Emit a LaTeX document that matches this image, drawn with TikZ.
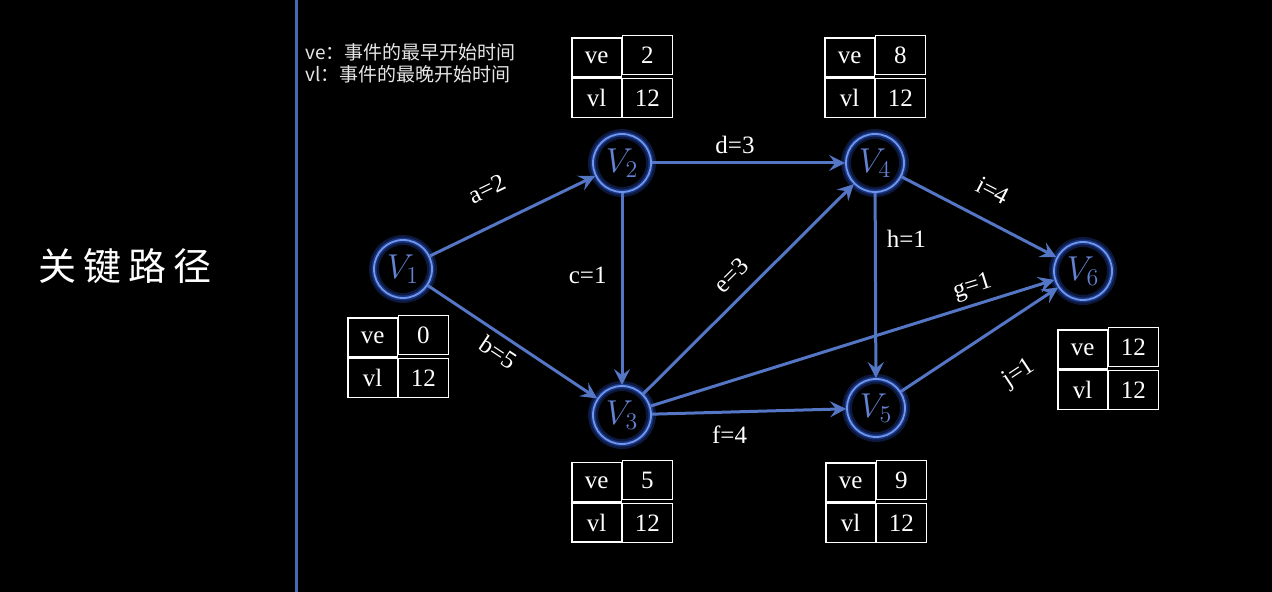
\documentclass[tikz,border=0pt]{standalone}
\usepackage{fontspec}
\setmainfont{Liberation Serif}
\newfontfamily\cjk{Noto Sans CJK SC}
\usetikzlibrary{positioning,arrows.meta,matrix}
\definecolor{edgeblue}{RGB}{84,118,196}
\definecolor{ringblue}{RGB}{110,150,235}
\definecolor{glowblue}{RGB}{40,80,200}
\definecolor{vtxtext}{RGB}{100,130,210}
\definecolor{divider}{RGB}{70,105,180}

\begin{document}
\begin{tikzpicture}[x=0.5pt, y=-0.5pt,
vtx/.style={circle, minimum size=29pt, inner sep=0pt, draw=ringblue, line width=0.9pt, text=vtxtext, font=\fontsize{18}{20}\selectfont, preaction={draw=glowblue, line width=5pt, opacity=.3}, preaction={draw=glowblue, line width=2.5pt, opacity=.5}},
arrow/.style={-{Stealth[length=8pt, width=8pt, inset=3pt]}, line width=1.5pt, edgeblue},
lbl/.style={text=white, font=\fontsize{12.5}{14}\selectfont, inner sep=1pt},
tbl/.style={matrix of nodes, column sep=0pt, row sep=0pt, nodes={draw=white, line width=0.6pt, outer sep=0pt, minimum width=24.75pt, minimum height=19.5pt, inner sep=0pt, text=white, font=\fontsize{12.5}{14}\selectfont}}
]
\fill[black] (0,0) rectangle (1272,592);
\useasboundingbox (0,0) rectangle (1272,592);
\draw[divider, line width=1.5pt] (296,0) -- (296,592);

\node[text=white, font=\cjk\fontsize{19}{22}\selectfont] (title) at (125,266) {关\hspace{3.5pt}键\hspace{3.5pt}路\hspace{3.5pt}径};
\node[anchor=west, align=left, inner sep=0pt, text=white!90!black, font=\cjk\fontsize{9.5}{11}\selectfont] (legend) at (305,63) {ve：事件的最早开始时间\\vl：事件的最晚开始时间};

% vertices
\node[vtx] (v1) at (403,269) {$V_1$};
\node[vtx] (v2) at (622,163) {$V_2$};
\node[vtx] (v3) at (622,415) {$V_3$};
\node[vtx] (v4) at (875,163) {$V_4$};
\node[vtx] (v5) at (876,408) {$V_5$};
\node[vtx] (v6) at (1083,271) {$V_6$};

% ve / vl tables
\matrix[tbl, below=4.5pt of v1, xshift=-2.5pt] (t1) {ve & 0\\ vl & 12\\};
\matrix[tbl, above=4pt of v2] (t2) {ve & 2\\ vl & 12\\};
\matrix[tbl, below=4pt of v3] (t3) {ve & 5\\ vl & 12\\};
\matrix[tbl, above=4pt of v4] (t4) {ve & 8\\ vl & 12\\};
\matrix[tbl, below=7.5pt of v5] (t5) {ve & 9\\ vl & 12\\};
\matrix[tbl, below=9.5pt of v6, xshift=12.5pt] (t6) {ve & 12\\ vl & 12\\};

% activities
\draw[arrow] (v1) -- node[lbl, sloped, above=12pt, pos=.44] {a=2} (v2);
\draw[arrow] (v1) -- node[lbl, sloped, below=2pt, pos=.47] {b=5} (v3);
\draw[arrow] (v2) -- node[lbl, left=6pt, pos=.43] {c=1} (v3);
\draw[arrow] (v2) -- node[lbl, above=3pt, pos=.43] {d=3} (v4);
\draw[arrow] (v3) -- node[lbl, sloped, above=5pt, pos=.49] {e=3} (v4);
\draw[arrow] (v3) -- node[lbl, below=5pt, pos=.4] {f=4} (v5);
\draw[arrow] (v3) -- node[lbl, sloped, above=1.5pt, pos=.81] {g=1} (v6);
\draw[arrow] (v4) -- node[lbl, right=4pt, pos=.25] {h=1} (v5);
\draw[arrow] (v4) -- node[lbl, sloped, above=9pt, pos=.5] {i=4} (v6);
\draw[arrow] (v5) -- node[lbl, sloped, below=18pt, pos=.575] {j=1} (v6);
\end{tikzpicture}
\end{document}
